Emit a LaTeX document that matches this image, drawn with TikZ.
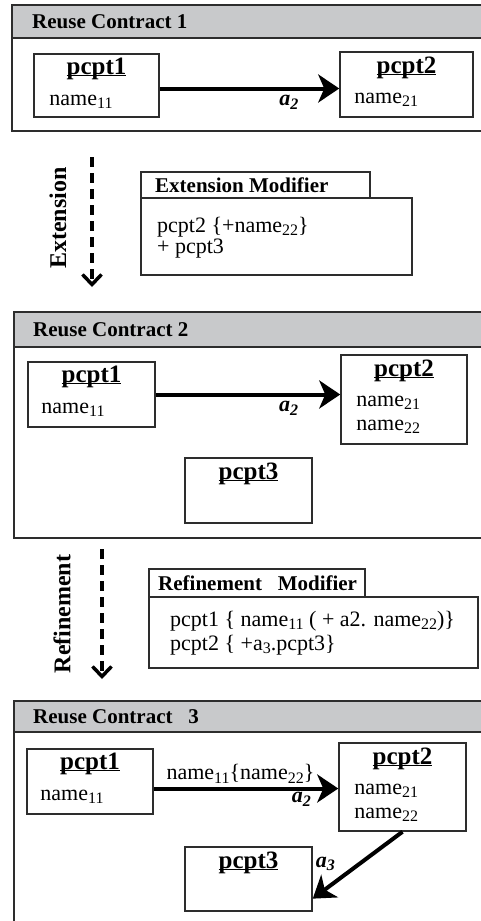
\documentclass[tikz,border=0pt]{standalone}
\usepackage{fontspec}
\setmainfont{Liberation Serif}
\usepackage{xcolor}
\usetikzlibrary{arrows.meta,positioning}
\definecolor{hdrgray}{RGB}{200,201,203}
\definecolor{linegray}{RGB}{45,45,45}
\newcommand{\pname}[1]{\underline{\smash{#1}}}
\newcommand{\subx}[1]{\raisebox{-0.16em}{\fontsize{16}{18}\selectfont #1}}

\begin{document}
\begin{tikzpicture}[x=1pt,y=-1pt,
    frame/.style={draw=linegray,line width=1.6pt,anchor=north west,inner sep=0pt,minimum width=490pt},
    hdr/.style={frame,fill=hdrgray},
    hdrtxt/.style={anchor=west,inner sep=0pt,font=\fontsize{21}{24}\selectfont\bfseries},
    box/.style={draw=linegray,line width=1.5pt,inner sep=0pt},
    tab/.style={box,anchor=north west},
    ttl/.style={anchor=base,inner sep=0pt,font=\fontsize{25}{28}\selectfont\bfseries},
    attr/.style={anchor=base west,inner sep=0pt,font=\fontsize{22}{24}\selectfont},
    tabtxt/.style={anchor=base west,inner sep=0pt,font=\fontsize{21}{24}\selectfont\bfseries},
    side/.style={rotate=90,inner sep=0pt,font=\fontsize{24}{26}\selectfont\bfseries},
    lbl/.style={inner sep=1pt,font=\fontsize{22}{24}\selectfont\bfseries\itshape},
    conn/.style={line width=4pt,-{Stealth[length=21pt,width=28pt,inset=6pt]}},
    flow/.style={line width=3.5pt,dash pattern=on 10pt off 6pt,-{Straight Barb[length=10pt,width=19pt]}}]
    \useasboundingbox (0,0) rectangle (481,921);
    \clip (0,0) rectangle (481,921);

    % reuse contract 1
    \node[frame,minimum height=126pt] (rc1) at (11,4) {};
    \node[hdr,minimum height=33pt] (rc1h) at (11,4) {};
    \node[hdrtxt] (rc1t) at ([xshift=21pt]rc1h.west) {Reuse Contract 1};
    \node[box,minimum width=125pt,minimum height=63pt] (rc1p1) at (96.5,85.5) {};
    \node[ttl] (rc1p1t) at ([yshift=-21pt]rc1p1.north) {\pname{pcpt1}};
    \node[attr] (rc1p1a) at ([xshift=16pt,yshift=-52pt]rc1p1.north west) {name\subx{11}};
    \node[box,minimum width=133pt,minimum height=65pt] (rc1p2) at (406.5,84.5) {};
    \node[ttl] (rc1p2t) at ([yshift=-22pt]rc1p2.north) {\pname{pcpt2}};
    \node[attr] (rc1p2a) at ([xshift=15pt,yshift=-52pt]rc1p2.north west) {name\subx{21}};
    \draw[conn] ([yshift=-3pt]rc1p1.east) -- ([yshift=-3pt]rc1p1.east -| rc1p2.west)
        node[lbl,pos=0.72,below=4pt] (rc1a2) {a\subx{2}};

    % extension
    \coordinate (ext0) at (92,157);
    \coordinate (ext1) at (92,287);
    \draw[flow] (ext0) -- (ext1);
    \node[side] (extlbl) at (58,218) {Extension};
    \node[tab,minimum width=229pt,minimum height=26pt] (extt) at (140,171) {};
    \node[tab,minimum width=271pt,minimum height=77pt] (extb) at (140,197) {};
    \node[tabtxt] (exttt) at ([xshift=15pt,yshift=-21pt]extt.north west) {Extension Modifier};
    \node[attr] (extl1) at ([xshift=17pt,yshift=-35pt]extb.north west) {pcpt2 \{+name\subx{22}\}};
    \node[attr] (extl2) at ([xshift=17pt,yshift=-56pt]extb.north west) {+ pcpt3};

    % reuse contract 2
    \node[frame,minimum height=226pt] (rc2) at (13,311) {};
    \node[hdr,minimum height=35pt] (rc2h) at (13,311) {};
    \node[hdrtxt] (rc2t) at ([xshift=20pt]rc2h.west) {Reuse Contract 2};
    \node[box,minimum width=127pt,minimum height=65pt] (rc2p1) at (91.5,394.5) {};
    \node[ttl] (rc2p1t) at ([yshift=-21pt]rc2p1.north) {\pname{pcpt1}};
    \node[attr] (rc2p1a) at ([xshift=14pt,yshift=-52pt]rc2p1.north west) {name\subx{11}};
    \node[box,minimum width=126pt,minimum height=89pt] (rc2p2) at (404,399.5) {};
    \node[ttl] (rc2p2t) at ([yshift=-22pt]rc2p2.north) {\pname{pcpt2}};
    \node[attr] (rc2p2a) at ([xshift=16pt,yshift=-52pt]rc2p2.north west) {name\subx{21}};
    \node[attr] (rc2p2b) at ([xshift=16pt,yshift=-76pt]rc2p2.north west) {name\subx{22}};
    \node[box,minimum width=127pt,minimum height=65pt] (rc2p3) at (248.5,490.5) {};
    \node[ttl] (rc2p3t) at ([yshift=-22pt]rc2p3.north) {\pname{pcpt3}};
    \draw[conn] (rc2p1.east) -- (rc2p1.east -| rc2p2.west)
        node[lbl,pos=0.72,below=4pt] (rc2a2) {a\subx{2}};

    % refinement
    \coordinate (ref0) at (102,549);
    \coordinate (ref1) at (102,679);
    \draw[flow] (ref0) -- (ref1);
    \node[side] (reflbl) at (62,614) {Refinement};
    \node[tab,minimum width=216pt,minimum height=28pt] (reft) at (148,568) {};
    \node[tab,minimum width=329pt,minimum height=71pt] (refb) at (148,596) {};
    \node[tabtxt] (reftt) at ([xshift=10pt,yshift=-22pt]reft.north west) {Refinement\hspace{0.5em} Modifier};
    \node[attr] (refl1) at ([xshift=22pt,yshift=-30pt]refb.north west) {pcpt1 \{ name\subx{11} ( + a2. name\subx{22})\}};
    \node[attr] (refl2) at ([xshift=22pt,yshift=-54pt]refb.north west) {pcpt2 \{ +a\subx{3}.pcpt3\}};

    % reuse contract 3
    \node[frame,minimum height=250pt] (rc3) at (13,700) {};
    \node[hdr,minimum height=31pt] (rc3h) at (13,700) {};
    \node[hdrtxt] (rc3t) at ([xshift=20pt]rc3h.west) {Reuse Contract\hspace{0.5em} 3};
    \node[box,minimum width=126pt,minimum height=65pt] (rc3p1) at (90,781.5) {};
    \node[ttl] (rc3p1t) at ([yshift=-21pt]rc3p1.north) {\pname{pcpt1}};
    \node[attr] (rc3p1a) at ([xshift=14pt,yshift=-52pt]rc3p1.north west) {name\subx{11}};
    \node[box,minimum width=127pt,minimum height=88pt] (rc3p2) at (402.5,787) {};
    \node[ttl] (rc3p2t) at ([yshift=-22pt]rc3p2.north) {\pname{pcpt2}};
    \node[attr] (rc3p2a) at ([xshift=16pt,yshift=-52pt]rc3p2.north west) {name\subx{21}};
    \node[attr] (rc3p2b) at ([xshift=16pt,yshift=-76pt]rc3p2.north west) {name\subx{22}};
    \node[box,minimum width=127pt,minimum height=64pt] (rc3p3) at (248.5,879) {};
    \node[ttl] (rc3p3t) at ([yshift=-22pt]rc3p3.north) {\pname{pcpt3}};
    \draw[conn] ([yshift=-7pt]rc3p1.east) -- ([yshift=-7pt]rc3p1.east -| rc3p2.west)
        node[pos=0.47,above=2pt,inner sep=1pt,font=\fontsize{22}{24}\selectfont] (rc3n) {name\subx{11}\{name\subx{22}\}}
        node[lbl,pos=0.8,below=1pt] (rc3a2) {a\subx{2}};
    \draw[conn] (rc3p2.south) -- (rc3p3.-17)
        node[lbl,pos=0.72,above left=6pt and 0pt] (rc3a3) {a\subx{3}};
\end{tikzpicture}
\end{document}
